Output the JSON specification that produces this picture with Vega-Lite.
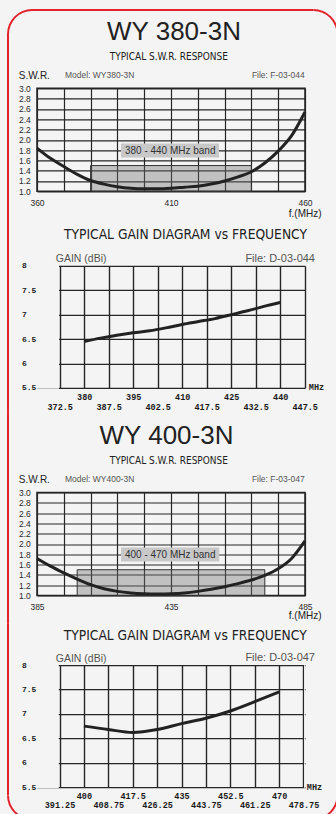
{
  "$schema": "https://vega.github.io/schema/vega-lite/v6.json",
  "background": "#f4f4f4",
  "padding": {"left": 6, "top": 8.3, "right": 0, "bottom": 0},
  "columns": 1,
  "align": "each",
  "spacing": -2.4,
  "bounds": "full",
  "datasets": {
    "swr1": [
      {"f": 360, "swr": 1.84}, {"f": 365, "swr": 1.64}, {"f": 370, "swr": 1.48}, {"f": 375, "swr": 1.33},
      {"f": 380, "swr": 1.21}, {"f": 385, "swr": 1.14}, {"f": 390, "swr": 1.09}, {"f": 395, "swr": 1.06},
      {"f": 400, "swr": 1.05}, {"f": 405, "swr": 1.05}, {"f": 410, "swr": 1.06}, {"f": 415, "swr": 1.08},
      {"f": 420, "swr": 1.1}, {"f": 425, "swr": 1.14}, {"f": 430, "swr": 1.2}, {"f": 435, "swr": 1.28},
      {"f": 440, "swr": 1.38}, {"f": 445, "swr": 1.55}, {"f": 450, "swr": 1.78}, {"f": 455, "swr": 2.08},
      {"f": 460, "swr": 2.54}
    ],
    "swr2": [
      {"f": 385, "swr": 1.72}, {"f": 390, "swr": 1.57}, {"f": 395, "swr": 1.44}, {"f": 400, "swr": 1.32},
      {"f": 405, "swr": 1.21}, {"f": 410, "swr": 1.13}, {"f": 415, "swr": 1.08}, {"f": 420, "swr": 1.05},
      {"f": 425, "swr": 1.035}, {"f": 430, "swr": 1.03}, {"f": 435, "swr": 1.035}, {"f": 440, "swr": 1.05},
      {"f": 445, "swr": 1.08}, {"f": 450, "swr": 1.12}, {"f": 455, "swr": 1.17}, {"f": 460, "swr": 1.23},
      {"f": 465, "swr": 1.3}, {"f": 470, "swr": 1.39}, {"f": 475, "swr": 1.52}, {"f": 480, "swr": 1.72},
      {"f": 485, "swr": 2.06}
    ],
    "gain1": [
      {"f": 380, "g": 6.45}, {"f": 385, "g": 6.52}, {"f": 390, "g": 6.58}, {"f": 395, "g": 6.63},
      {"f": 400, "g": 6.67}, {"f": 405, "g": 6.73}, {"f": 410, "g": 6.8}, {"f": 415, "g": 6.86},
      {"f": 420, "g": 6.92}, {"f": 425, "g": 7.0}, {"f": 430, "g": 7.08}, {"f": 435, "g": 7.17},
      {"f": 440, "g": 7.25}
    ],
    "gain2": [
      {"f": 400, "g": 6.75}, {"f": 408.75, "g": 6.68}, {"f": 417.5, "g": 6.62}, {"f": 426.25, "g": 6.68},
      {"f": 435, "g": 6.8}, {"f": 443.75, "g": 6.91}, {"f": 452.5, "g": 7.06}, {"f": 461.25, "g": 7.25},
      {"f": 470, "g": 7.45}
    ],
    "band1": [{"f1": 380, "f2": 440, "s1": 1.0, "s2": 1.5}],
    "band2": [{"f1": 400, "f2": 470, "s1": 1.0, "s2": 1.5}]
  },
  "concat": [
    {
      "width": 268,
      "height": 103,
      "data": {"values": [{}]},
      "layer": [
        {"mark": {"type": "rect", "fill": "#e3232b"}, "encoding": {"x": {"datum": 348.806, "type": "quantitative"}, "x2": {"datum": 349.552}, "y": {"datum": 4.0524, "type": "quantitative"}, "y2": {"datum": 0.3883}}},
        {"mark": {"type": "rect", "fill": "#e3232b"}, "encoding": {"x": {"datum": 471.754, "type": "quantitative"}, "x2": {"datum": 472.5}, "y": {"datum": 4.0524, "type": "quantitative"}, "y2": {"datum": 0.3883}}},
        {"mark": {"type": "rect", "fill": "#e3232b"}, "encoding": {"x": {"datum": 358.134, "type": "quantitative"}, "x2": {"datum": 463.172}, "y": {"datum": 4.5379, "type": "quantitative"}, "y2": {"datum": 4.499}}},
        {"mark": {"type": "arc", "fill": "#e3232b", "outerRadius": 25, "innerRadius": 23, "theta": 4.712389, "theta2": 6.283185}, "encoding": {"x": {"datum": 358.134, "type": "quantitative"}, "y": {"datum": 4.0524, "type": "quantitative"}}},
        {"mark": {"type": "arc", "fill": "#e3232b", "outerRadius": 25, "innerRadius": 23, "theta": 0, "theta2": 1.570796}, "encoding": {"x": {"datum": 463.172, "type": "quantitative"}, "y": {"datum": 4.0524, "type": "quantitative"}}},
        {"data": {"name": "band1"}, "mark": {"type": "rect", "fill": "#6e6e6e", "fillOpacity": 0.38, "stroke": "#333333", "strokeWidth": 1}, "encoding": {"x": {"field": "f1", "type": "quantitative"}, "x2": {"field": "f2"}, "y": {"field": "s1", "type": "quantitative"}, "y2": {"field": "s2"}}},
        {"mark": {"type": "rect", "fill": "#c8c8c8"}, "encoding": {"x": {"datum": 391.34, "type": "quantitative"}, "x2": {"datum": 427.91}, "y": {"datum": 1.656, "type": "quantitative"}, "y2": {"datum": 1.928}}},
        {"mark": {"type": "text", "text": "380 - 440 MHz band", "fontSize": 10, "font": "Liberation Sans", "align": "center", "baseline": "middle", "color": "#333333"}, "encoding": {"x": {"datum": 409.7, "type": "quantitative"}, "y": {"datum": 1.792, "type": "quantitative"}}},
        {"mark": {"type": "text", "text": "WY 380-3N", "fontSize": 26, "font": "Liberation Sans", "align": "center", "baseline": "alphabetic", "color": "#222222"}, "encoding": {"x": {"datum": 411.12, "type": "quantitative"}, "y": {"datum": 3.9417, "type": "quantitative"}}},
        {"mark": {"type": "text", "text": "TYPICAL S.W.R. RESPONSE", "fontSize": 10, "font": "Liberation Sans Narrow, DejaVu Sans Condensed, Liberation Sans", "align": "center", "baseline": "alphabetic", "color": "#222222"}, "encoding": {"x": {"datum": 409.18, "type": "quantitative"}, "y": {"datum": 3.5476, "type": "quantitative"}}},
        {"mark": {"type": "text", "text": "Model:  WY380-3N", "fontSize": 8.5, "font": "Liberation Sans", "align": "left", "baseline": "alphabetic", "color": "#555555"}, "encoding": {"x": {"datum": 370.45, "type": "quantitative"}, "y": {"datum": 3.198, "type": "quantitative"}}},
        {"mark": {"type": "text", "text": "File:  F-03-044", "fontSize": 8.5, "font": "Liberation Sans", "align": "right", "baseline": "alphabetic", "color": "#555555"}, "encoding": {"x": {"datum": 459.89, "type": "quantitative"}, "y": {"datum": 3.198, "type": "quantitative"}}},
        {
          "data": {"name": "swr1"},
          "mark": {"type": "line", "color": "#222222", "strokeWidth": 3, "interpolate": "monotone"},
          "encoding": {
            "x": {"field": "f", "type": "quantitative", "scale": {"domain": [360, 460], "nice": false, "zero": false},
              "axis": {"values": [360, 370, 380, 390, 400, 410, 420, 430, 440, 450, 460], "tickCount": 50, "labelExpr": "datum.value % 50 === 10 ? datum.label : ''", "labelBaseline": "middle", "labelPadding": 10.8, "labelFontSize": 8.5, "title": "f.(MHz)", "titleX": 284, "titleY": 25, "titleAlign": "right", "titleBaseline": "alphabetic", "titleFontSize": 10}},
            "y": {"field": "swr", "type": "quantitative", "scale": {"domain": [1, 3], "nice": false, "zero": false},
              "axis": {"values": [1, 1.2, 1.4, 1.6, 1.8, 2, 2.2, 2.4, 2.6, 2.8, 3], "tickCount": 50, "format": ".1f", "labelFontSize": 8.5, "labelPadding": 6.7, "labelBaseline": "middle", "title": "S.W.R.", "titleAngle": 0, "titleAlign": "left", "titleBaseline": "alphabetic", "titleX": -18.7, "titleY": -10.2, "titleFontSize": 10}}
          }
        }
      ]
    },
    {
      "width": 268,
      "height": 122,
      "view": {"stroke": null},
      "data": {"values": [{}]},
      "layer": [
        {"mark": {"type": "rect", "fill": "#e3232b"}, "encoding": {"x": {"datum": 356.367, "type": "quantitative"}, "x2": {"datum": 356.98}, "y": {"datum": 8.9016, "type": "quantitative"}, "y2": {"datum": 4.9877}}},
        {"mark": {"type": "rect", "fill": "#e3232b"}, "encoding": {"x": {"datum": 457.235, "type": "quantitative"}, "x2": {"datum": 457.847}, "y": {"datum": 8.9016, "type": "quantitative"}, "y2": {"datum": 4.9877}}},
        {"mark": {"type": "rect", "fill": "#f4f4f4"}, "encoding": {"x": {"datum": 365.551, "type": "quantitative"}, "x2": {"datum": 372.29}, "y": {"datum": 5.48, "type": "quantitative"}, "y2": {"datum": 8.02}}},
        {"mark": {"type": "text", "text": "TYPICAL GAIN DIAGRAM vs FREQUENCY", "fontSize": 13.7, "font": "Liberation Sans Narrow, DejaVu Sans Condensed, Liberation Sans", "align": "center", "baseline": "alphabetic", "color": "#222222"}, "encoding": {"x": {"datum": 411.01, "type": "quantitative"}, "y": {"datum": 8.547, "type": "quantitative"}}},
        {"mark": {"type": "text", "text": "File:  D-03-044", "fontSize": 11, "font": "Liberation Sans", "align": "right", "baseline": "alphabetic", "color": "#555555"}, "encoding": {"x": {"datum": 450.65, "type": "quantitative"}, "y": {"datum": 8.088, "type": "quantitative"}}},
        {
          "data": {"name": "gain1"},
          "mark": {"type": "line", "color": "#222222", "strokeWidth": 3, "interpolate": "monotone"},
          "encoding": {
            "x": {"field": "f", "type": "quantitative", "scale": {"domain": [365.551, 447.592], "nice": false, "zero": false},
              "axis": {"values": [372.5, 380, 387.5, 395, 402.5, 410, 417.5, 425, 432.5, 440, 447.5], "tickCount": 50, "labelExpr": "(datum.value - 380) % 15 === 0 ? [format(datum.value, '~f')] : ['', format(datum.value, '~f')]", "labelBaseline": "top", "labelPadding": 5, "labelLineHeight": 9.4, "labelFont": "Liberation Mono", "labelFontWeight": "bold", "labelFontSize": 8.5, "labelColor": "#1a1a1a", "title": "MHz", "titleX": 271.3, "titleY": -1.3, "titleAlign": "left", "titleBaseline": "middle", "titleFont": "Liberation Mono", "titleFontWeight": "bold", "titleFontSize": 8.5, "gridWidth": 1.4}},
            "y": {"field": "g", "type": "quantitative", "scale": {"domain": [5.5, 8], "nice": false, "zero": false},
              "axis": {"values": [5.5, 6, 6.5, 7, 7.5, 8], "tickCount": 50, "format": "~g", "labelAlign": "left", "labelPadding": 15.5, "labelBaseline": "middle", "labelFont": "Liberation Mono", "labelFontWeight": "bold", "labelFontSize": 8, "labelColor": "#1a1a1a", "title": "GAIN (dBi)", "titleAngle": 0, "titleAlign": "left", "titleBaseline": "alphabetic", "titleX": 18.3, "titleY": -4.3, "titleFontSize": 10.5, "titleColor": "#555555", "gridWidth": 1.4}}
          }
        }
      ]
    },
    {
      "width": 268,
      "height": 103,
      "data": {"values": [{}]},
      "layer": [
        {"mark": {"type": "rect", "fill": "#e3232b"}, "encoding": {"x": {"datum": 373.806, "type": "quantitative"}, "x2": {"datum": 374.552}, "y": {"datum": 4.5476, "type": "quantitative"}, "y2": {"datum": 0.4505}}},
        {"mark": {"type": "rect", "fill": "#e3232b"}, "encoding": {"x": {"datum": 496.754, "type": "quantitative"}, "x2": {"datum": 497.5}, "y": {"datum": 4.5476, "type": "quantitative"}, "y2": {"datum": 0.4505}}},
        {"data": {"name": "band2"}, "mark": {"type": "rect", "fill": "#6e6e6e", "fillOpacity": 0.38, "stroke": "#333333", "strokeWidth": 1}, "encoding": {"x": {"field": "f1", "type": "quantitative"}, "x2": {"field": "f2"}, "y": {"field": "s1", "type": "quantitative"}, "y2": {"field": "s2"}}},
        {"mark": {"type": "rect", "fill": "#c8c8c8"}, "encoding": {"x": {"datum": 416.34, "type": "quantitative"}, "x2": {"datum": 453.02}, "y": {"datum": 1.66, "type": "quantitative"}, "y2": {"datum": 1.932}}},
        {"mark": {"type": "text", "text": "400 - 470 MHz band", "fontSize": 10, "font": "Liberation Sans", "align": "center", "baseline": "middle", "color": "#333333"}, "encoding": {"x": {"datum": 434.7, "type": "quantitative"}, "y": {"datum": 1.796, "type": "quantitative"}}},
        {"mark": {"type": "text", "text": "WY 400-3N", "fontSize": 26, "font": "Liberation Sans", "align": "center", "baseline": "alphabetic", "color": "#222222"}, "encoding": {"x": {"datum": 433.32, "type": "quantitative"}, "y": {"datum": 3.9398, "type": "quantitative"}}},
        {"mark": {"type": "text", "text": "TYPICAL S.W.R. RESPONSE", "fontSize": 10, "font": "Liberation Sans Narrow, DejaVu Sans Condensed, Liberation Sans", "align": "center", "baseline": "alphabetic", "color": "#222222"}, "encoding": {"x": {"datum": 434.18, "type": "quantitative"}, "y": {"datum": 3.5573, "type": "quantitative"}}},
        {"mark": {"type": "text", "text": "Model:  WY400-3N", "fontSize": 8.5, "font": "Liberation Sans", "align": "left", "baseline": "alphabetic", "color": "#555555"}, "encoding": {"x": {"datum": 395.45, "type": "quantitative"}, "y": {"datum": 3.2019, "type": "quantitative"}}},
        {"mark": {"type": "text", "text": "File:  F-03-047", "fontSize": 8.5, "font": "Liberation Sans", "align": "right", "baseline": "alphabetic", "color": "#555555"}, "encoding": {"x": {"datum": 484.89, "type": "quantitative"}, "y": {"datum": 3.2019, "type": "quantitative"}}},
        {
          "data": {"name": "swr2"},
          "mark": {"type": "line", "color": "#222222", "strokeWidth": 3, "interpolate": "monotone"},
          "encoding": {
            "x": {"field": "f", "type": "quantitative", "scale": {"domain": [385, 485], "nice": false, "zero": false},
              "axis": {"values": [385, 395, 405, 415, 425, 435, 445, 455, 465, 475, 485], "tickCount": 50, "labelExpr": "(datum.value - 385) % 50 === 0 ? datum.label : ''", "labelBaseline": "middle", "labelPadding": 10.6, "labelFontSize": 8.5, "title": "f.(MHz)", "titleX": 284, "titleY": 23.5, "titleAlign": "right", "titleBaseline": "alphabetic", "titleFontSize": 10}},
            "y": {"field": "swr", "type": "quantitative", "scale": {"domain": [1, 3], "nice": false, "zero": false},
              "axis": {"values": [1, 1.2, 1.4, 1.6, 1.8, 2, 2.2, 2.4, 2.6, 2.8, 3], "tickCount": 50, "format": ".1f", "labelFontSize": 8.5, "labelPadding": 6.7, "labelBaseline": "middle", "title": "S.W.R.", "titleAngle": 0, "titleAlign": "left", "titleBaseline": "alphabetic", "titleX": -18.7, "titleY": -10.4, "titleFontSize": 10}}
          }
        }
      ]
    },
    {
      "width": 268,
      "height": 122,
      "view": {"stroke": null},
      "data": {"values": [{}]},
      "layer": [
        {"mark": {"type": "rect", "fill": "#e3232b"}, "encoding": {"x": {"datum": 372.423, "type": "quantitative"}, "x2": {"datum": 373.14}, "y": {"datum": 8.8545, "type": "quantitative"}, "y2": {"datum": 5.3299}}},
        {"mark": {"type": "rect", "fill": "#e3232b"}, "encoding": {"x": {"datum": 490.584, "type": "quantitative"}, "x2": {"datum": 491.302}, "y": {"datum": 8.8545, "type": "quantitative"}, "y2": {"datum": 5.3299}}},
        {"mark": {"type": "rect", "fill": "#e3232b"}, "encoding": {"x": {"datum": 381.388, "type": "quantitative"}, "x2": {"datum": 482.336}, "y": {"datum": 4.8586, "type": "quantitative"}, "y2": {"datum": 4.8176}}},
        {"mark": {"type": "arc", "fill": "#e3232b", "outerRadius": 25, "innerRadius": 23, "theta": 3.141593, "theta2": 4.712389}, "encoding": {"x": {"datum": 381.388, "type": "quantitative"}, "y": {"datum": 5.3299, "type": "quantitative"}}},
        {"mark": {"type": "arc", "fill": "#e3232b", "outerRadius": 25, "innerRadius": 23, "theta": 1.570796, "theta2": 3.141593}, "encoding": {"x": {"datum": 482.336, "type": "quantitative"}, "y": {"datum": 5.3299, "type": "quantitative"}}},
        {"mark": {"type": "rect", "fill": "#f4f4f4"}, "encoding": {"x": {"datum": 383.181, "type": "quantitative"}, "x2": {"datum": 391.0}, "y": {"datum": 5.48, "type": "quantitative"}, "y2": {"datum": 8.02}}},
        {"mark": {"type": "rect", "fill": "#f4f4f4"}, "encoding": {"x": {"datum": 479.0, "type": "quantitative"}, "x2": {"datum": 479.288}, "y": {"datum": 5.48, "type": "quantitative"}, "y2": {"datum": 8.02}}},
        {"mark": {"type": "text", "text": "TYPICAL GAIN DIAGRAM vs FREQUENCY", "fontSize": 13.7, "font": "Liberation Sans Narrow, DejaVu Sans Condensed, Liberation Sans", "align": "center", "baseline": "alphabetic", "color": "#222222"}, "encoding": {"x": {"datum": 436.33, "type": "quantitative"}, "y": {"datum": 8.506, "type": "quantitative"}}},
        {"mark": {"type": "text", "text": "File:  D-03-047", "fontSize": 11, "font": "Liberation Sans", "align": "right", "baseline": "alphabetic", "color": "#555555"}, "encoding": {"x": {"datum": 482.87, "type": "quantitative"}, "y": {"datum": 8.082, "type": "quantitative"}}},
        {
          "data": {"name": "gain2"},
          "mark": {"type": "line", "color": "#222222", "strokeWidth": 3, "interpolate": "monotone"},
          "encoding": {
            "x": {"field": "f", "type": "quantitative", "scale": {"domain": [383.181, 479.288], "nice": false, "zero": false},
              "axis": {"values": [391.25, 400, 408.75, 417.5, 426.25, 435, 443.75, 452.5, 461.25, 470, 478.75], "tickCount": 50, "labelExpr": "(datum.value - 400) % 17.5 === 0 ? [format(datum.value, '~f')] : ['', format(datum.value, '~f')]", "labelBaseline": "top", "labelPadding": 4.7, "labelLineHeight": 9.1, "labelFont": "Liberation Mono", "labelFontWeight": "bold", "labelFontSize": 8.5, "labelColor": "#1a1a1a", "title": "MHz", "titleX": 269.3, "titleY": -0.7, "titleAlign": "left", "titleBaseline": "middle", "titleFont": "Liberation Mono", "titleFontWeight": "bold", "titleFontSize": 8.5, "gridWidth": 1.4}},
            "y": {"field": "g", "type": "quantitative", "scale": {"domain": [5.5, 8], "nice": false, "zero": false},
              "axis": {"values": [5.5, 6, 6.5, 7, 7.5, 8], "tickCount": 50, "format": "~g", "labelAlign": "left", "labelPadding": 15.5, "labelBaseline": "middle", "labelFont": "Liberation Mono", "labelFontWeight": "bold", "labelFontSize": 8, "labelColor": "#1a1a1a", "title": "GAIN (dBi)", "titleAngle": 0, "titleAlign": "left", "titleBaseline": "alphabetic", "titleX": 18.3, "titleY": -4, "titleFontSize": 10.5, "titleColor": "#555555", "gridWidth": 1.4}}
          }
        }
      ]
    }
  ],
  "config": {
    "font": "Liberation Sans",
    "view": {"stroke": "#222222", "strokeWidth": 1.5},
    "axis": {
      "grid": true, "gridColor": "#262626", "gridWidth": 1.2, "gridOpacity": 1,
      "domain": false, "ticks": false, "tickSize": 0,
      "labelColor": "#2a2a2a", "titleColor": "#222222",
      "labelFont": "Liberation Sans", "titleFont": "Liberation Sans", "titleFontWeight": "normal",
      "labelOverlap": false, "labelFlush": false, "labelBound": false
    }
  }
}
